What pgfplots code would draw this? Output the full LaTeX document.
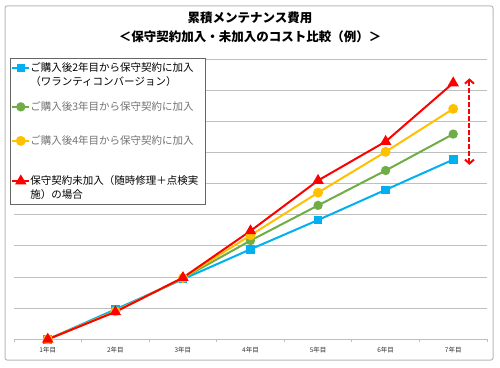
\documentclass[border=0pt]{standalone}
\usepackage{fontspec}
\setmainfont{Noto Sans CJK JP}
\usepackage{pgfplots}
\pgfplotsset{compat=1.18}
\usetikzlibrary{arrows.meta}
\definecolor{cblue}{RGB}{0,176,240}
\definecolor{cgreen}{RGB}{112,173,71}
\definecolor{cyellow}{RGB}{255,192,0}
\definecolor{cred}{RGB}{255,0,0}
\definecolor{gridgray}{RGB}{191,191,191}
\begin{document}
\begin{tikzpicture}[x=1pt,y=1pt]
\path[use as bounding box] (0pt,0pt) rectangle (500pt,367pt);
\draw[draw=black!28, line width=1pt, rounded corners=2pt] (5pt,7pt) rectangle (493pt,361pt);
\node[font=\fontsize{12.5}{14}\selectfont\bfseries] at (250pt,349pt) {累積メンテナンス費用};
\node[font=\fontsize{12.5}{14}\selectfont\bfseries] at (250pt,330pt) {＜保守契約加入・未加入のコスト比較（例）＞};
\begin{axis}[
  at={(14pt,27.7pt)}, anchor=south west,
  scale only axis, width=473pt, height=280.3pt,
  xmin=0.5, xmax=7.5, ymin=0, ymax=9,
  axis x line*=bottom, axis y line*=left,
  x axis line style={draw=gridgray, line width=1pt, -},
  y axis line style={draw=none},
  xtick={1,...,7},
  xticklabels={1年目,2年目,3年目,4年目,5年目,6年目,7年目},
  major x tick style={draw=none},
  minor xtick={0.5,1.5,...,7.5},
  minor x tick style={draw=gridgray, line width=0.8pt},
  minor tick length=3pt, tick align=outside,
  xticklabel style={font=\fontsize{6.5}{7}\selectfont, text=black!80, yshift=0pt},
  ytick={1,...,9}, yticklabels={}, major y tick style={draw=none},
  ymajorgrids, grid style={draw=gridgray, line width=1pt},
  clip=false,
  legend cell align=left,
  legend image post style={yshift=3.6pt},
  legend style={at={(-0.0085,1.0025)}, anchor=north west, draw=black!60, line width=0.6pt,
    fill=white, inner xsep=1pt, inner ysep=4pt, row sep=0pt,
    cells={anchor=base west},
    nodes={inner sep=0pt, text height=, text depth=, font=\fontsize{10.5}{14}\selectfont}},
]
\addplot[cblue, line width=2pt, mark=square*, mark size=3.3pt] coordinates {(1,0) (2,0.96) (3,1.93) (4,2.89) (5,3.83) (6,4.80) (7,5.77)};
\addlegendentry{\parbox[t][39pt][t]{174pt}{ご購入後2年目から保守契約に加入\\（ワランティコンバージョン）}}
\addplot[cgreen, line width=2pt, mark=*, mark size=3.6pt] coordinates {(1,0) (2,0.9) (3,1.96) (4,3.17) (5,4.30) (6,5.42) (7,6.59)};
\addlegendentry{\parbox[t][34pt][t]{174pt}{\textcolor{black!55}{ご購入後3年目から保守契約に加入}}}
\addplot[cyellow, line width=2pt, mark=*, mark size=3.9pt] coordinates {(1,0) (2,0.9) (3,1.97) (4,3.34) (5,4.71) (6,6.02) (7,7.40)};
\addlegendentry{\parbox[t][40pt][t]{174pt}{\textcolor{black!55}{ご購入後4年目から保守契約に加入}}}
\addplot[cred, line width=2pt, mark=triangle*, mark size=4.6pt] coordinates {(1,0) (2,0.88) (3,1.98) (4,3.48) (5,5.10) (6,6.35) (7,8.23)};
\addlegendentry{\parbox[t][25pt][t]{174pt}{保守契約未加入（随時修理＋点検実\\施）の場合}}
\addplot[cred, line width=2pt, dash pattern=on 4.5pt off 2.5pt, {Straight Barb[length=4pt,width=9pt]}-{Straight Barb[length=4pt,width=9pt]}, forget plot] coordinates {(7.24,5.60) (7.24,8.38)};
\end{axis}
\end{tikzpicture}
\end{document}
